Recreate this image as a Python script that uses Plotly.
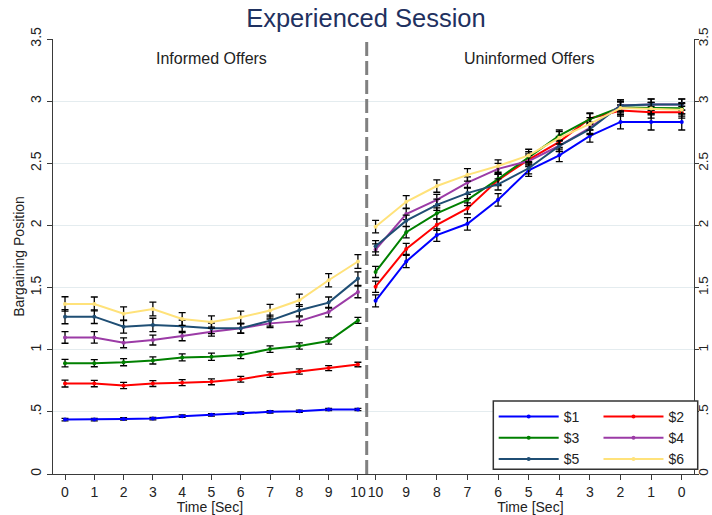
import plotly.graph_objects as go

# ---------------- data ----------------
time_informed = [0, 1, 2, 3, 4, 5, 6, 7, 8, 9, 10]
time_uninformed = [10, 9, 8, 7, 6, 5, 4, 3, 2, 1, 0]
tick_vals_x = [0, 1, 2, 3, 4, 5, 6, 7, 8, 9, 10]
y_tick_vals = [0, 0.5, 1, 1.5, 2, 2.5, 3, 3.5]
y_tick_text = ["0", ".5", "1", "1.5", "2", "2.5", "3", "3.5"]

series_names = ["$1", "$2", "$3", "$4", "$5", "$6"]
series_colors = ["#0000FF", "#FF0000", "#008000", "#9B3BA6", "#1F4E74", "#FFE27A"]

d1_inf = [0.438, 0.438, 0.443, 0.446, 0.465, 0.476, 0.489, 0.500, 0.505, 0.519, 0.519]
d2_inf = [0.728, 0.728, 0.712, 0.728, 0.735, 0.742, 0.763, 0.800, 0.825, 0.852, 0.881]
d3_inf = [0.892, 0.892, 0.900, 0.914, 0.938, 0.943, 0.957, 1.005, 1.030, 1.070, 1.236]
d4_inf = [1.099, 1.099, 1.056, 1.078, 1.110, 1.145, 1.172, 1.212, 1.230, 1.303, 1.465]
d5_inf = [1.266, 1.266, 1.185, 1.199, 1.188, 1.172, 1.172, 1.234, 1.317, 1.379, 1.572]
d6_inf = [1.368, 1.368, 1.290, 1.328, 1.247, 1.223, 1.261, 1.315, 1.398, 1.559, 1.710]

e1_inf = [0.010, 0.010, 0.010, 0.010, 0.010, 0.010, 0.010, 0.009, 0.009, 0.009, 0.009]
e2_inf = [0.028, 0.026, 0.025, 0.024, 0.024, 0.024, 0.023, 0.022, 0.021, 0.020, 0.018]
e3_inf = [0.030, 0.029, 0.029, 0.029, 0.028, 0.029, 0.028, 0.026, 0.025, 0.025, 0.024]
e4_inf = [0.047, 0.046, 0.040, 0.040, 0.038, 0.036, 0.036, 0.035, 0.035, 0.038, 0.047]
e5_inf = [0.057, 0.055, 0.052, 0.054, 0.050, 0.042, 0.040, 0.045, 0.045, 0.045, 0.054]
e6_inf = [0.058, 0.056, 0.055, 0.055, 0.051, 0.050, 0.050, 0.050, 0.050, 0.054, 0.055]

d1_un = [1.393, 1.710, 1.922, 2.013, 2.206, 2.444, 2.564, 2.720, 2.833, 2.833, 2.833]
d2_un = [1.507, 1.811, 2.005, 2.137, 2.365, 2.530, 2.672, 2.860, 2.924, 2.911, 2.911]
d3_un = [1.626, 1.945, 2.097, 2.205, 2.373, 2.548, 2.723, 2.855, 2.950, 2.944, 2.942]
d4_un = [1.806, 2.091, 2.205, 2.345, 2.455, 2.518, 2.641, 2.785, 2.965, 2.972, 2.972]
d5_un = [1.833, 2.038, 2.166, 2.260, 2.330, 2.460, 2.640, 2.775, 2.965, 2.973, 2.973]
d6_un = [1.990, 2.190, 2.317, 2.407, 2.478, 2.563, 2.705, 2.817, 2.944, 2.940, 2.930]

e1_un = [0.048, 0.050, 0.050, 0.050, 0.050, 0.050, 0.050, 0.050, 0.056, 0.065, 0.065]
e2_un = [0.045, 0.045, 0.045, 0.045, 0.045, 0.045, 0.045, 0.045, 0.045, 0.048, 0.048]
e3_un = [0.045, 0.045, 0.045, 0.045, 0.045, 0.045, 0.045, 0.045, 0.045, 0.045, 0.045]
e4_un = [0.045, 0.045, 0.045, 0.045, 0.045, 0.045, 0.045, 0.045, 0.045, 0.045, 0.045]
e5_un = [0.045, 0.045, 0.045, 0.045, 0.045, 0.045, 0.045, 0.045, 0.045, 0.045, 0.045]
e6_un = [0.050, 0.050, 0.050, 0.050, 0.050, 0.050, 0.050, 0.050, 0.050, 0.050, 0.050]

informed = [d1_inf, d2_inf, d3_inf, d4_inf, d5_inf, d6_inf]
informed_err = [e1_inf, e2_inf, e3_inf, e4_inf, e5_inf, e6_inf]
uninformed = [d1_un, d2_un, d3_un, d4_un, d5_un, d6_un]
uninformed_err = [e1_un, e2_un, e3_un, e4_un, e5_un, e6_un]

FONT = "Liberation Sans, Arial, sans-serif"
AXIS_COLOR = "#3a3a3a"
GRID_COLOR = "#E4ECEF"

fig = go.Figure()

for i, name in enumerate(series_names):
    col = series_colors[i]
    fig.add_trace(go.Scatter(
        x=time_informed, y=informed[i], name=name, mode="lines+markers",
        line=dict(color=col, width=2), marker=dict(color=col, size=4),
        error_y=dict(type="data", array=informed_err[i], color="black", thickness=1.3, width=3.5),
        xaxis="x", yaxis="y", showlegend=False,
    ))
for i, name in enumerate(series_names):
    col = series_colors[i]
    fig.add_trace(go.Scatter(
        x=time_uninformed, y=uninformed[i], name=name, mode="lines+markers",
        line=dict(color=col, width=2), marker=dict(color=col, size=4),
        error_y=dict(type="data", array=uninformed_err[i], color="black", thickness=1.3, width=3.5),
        xaxis="x2", yaxis="y2", showlegend=True,
        legend="legend" if i % 2 == 0 else "legend2",
    ))

split = 0.4894

common_x = dict(
    automargin=False,
    showline=True, linecolor=AXIS_COLOR, linewidth=1.2,
    ticks="outside", ticklen=5, tickcolor=AXIS_COLOR, tickwidth=1.2,
    tickvals=tick_vals_x, tickfont=dict(size=14, color="#222", family=FONT),
    showgrid=False, zeroline=False,
    title=dict(text="Time [Sec]", font=dict(size=14, color="#222", family=FONT), standoff=0),
)
common_y = dict(
    automargin=False,
    range=[0, 3.5], showline=True, linecolor=AXIS_COLOR, linewidth=1.2,
    ticks="outside", tickcolor=AXIS_COLOR, tickwidth=1.2,
    tickvals=y_tick_vals, ticktext=y_tick_text, tickangle=-90,
    showgrid=True, gridcolor=GRID_COLOR, gridwidth=1, zeroline=False,
)

fig.update_layout(
    width=712, height=515, autosize=False,
    margin=dict(l=53, r=18, t=39, b=41),
    paper_bgcolor="white", plot_bgcolor="white",
    font=dict(family=FONT, color="#222"),
    title=dict(text="Experienced Session", x=0.514, xref="container", xanchor="center",
               y=0.965, yref="container", yanchor="middle",
               font=dict(size=25.5, color="#1F3160", family=FONT)),
    xaxis=dict(domain=[0, split], range=[-0.41, 10.3], anchor="y", **common_x),
    xaxis2=dict(domain=[split, 1], range=[10.29, -0.40], anchor="y2", **common_x),
    yaxis=dict(anchor="x", side="left", ticklen=5,
               tickfont=dict(size=14, color="#222", family=FONT),
               title=dict(text="Bargaining Position", font=dict(size=14, color="#222", family=FONT), standoff=0),
               **common_y),
    yaxis2=dict(anchor="x2", side="right", ticklen=4, ticklabelstandoff=-7,
                tickfont=dict(size=13.5, color="#222", family=FONT), **common_y),
    legend=dict(x=0.6875, y=0.168, xanchor="left", yanchor="top", bgcolor="rgba(0,0,0,0)",
                font=dict(size=14, color="#222", family=FONT), itemwidth=60, tracegroupgap=0),
    legend2=dict(x=0.851, y=0.168, xanchor="left", yanchor="top", bgcolor="rgba(0,0,0,0)",
                 font=dict(size=14, color="#222", family=FONT), itemwidth=60, tracegroupgap=0),
    shapes=[
        dict(type="line", xref="paper", yref="y", x0=split, x1=split, y0=0, y1=3.5,
             line=dict(color="#808080", width=3, dash="14px,5px")),
        dict(type="rect", xref="paper", yref="paper", x0=0.6869, x1=1.0058, y0=0.0108, y1=0.1678,
             line=dict(color="#333333", width=1.5), fillcolor="white", layer="above"),
    ],
    annotations=[
        dict(text="Informed Offers", x=5, y=3.34, xref="x", yref="y", showarrow=False,
             font=dict(size=16, color="#222", family=FONT)),
        dict(text="Uninformed Offers", x=5, y=3.34, xref="x2", yref="y2", showarrow=False,
             font=dict(size=16, color="#222", family=FONT)),
    ],
)

fig.write_html("out.html", config={"displayModeBar": False},
               post_script="document.body.style.margin='0';document.body.style.overflow='hidden';")
